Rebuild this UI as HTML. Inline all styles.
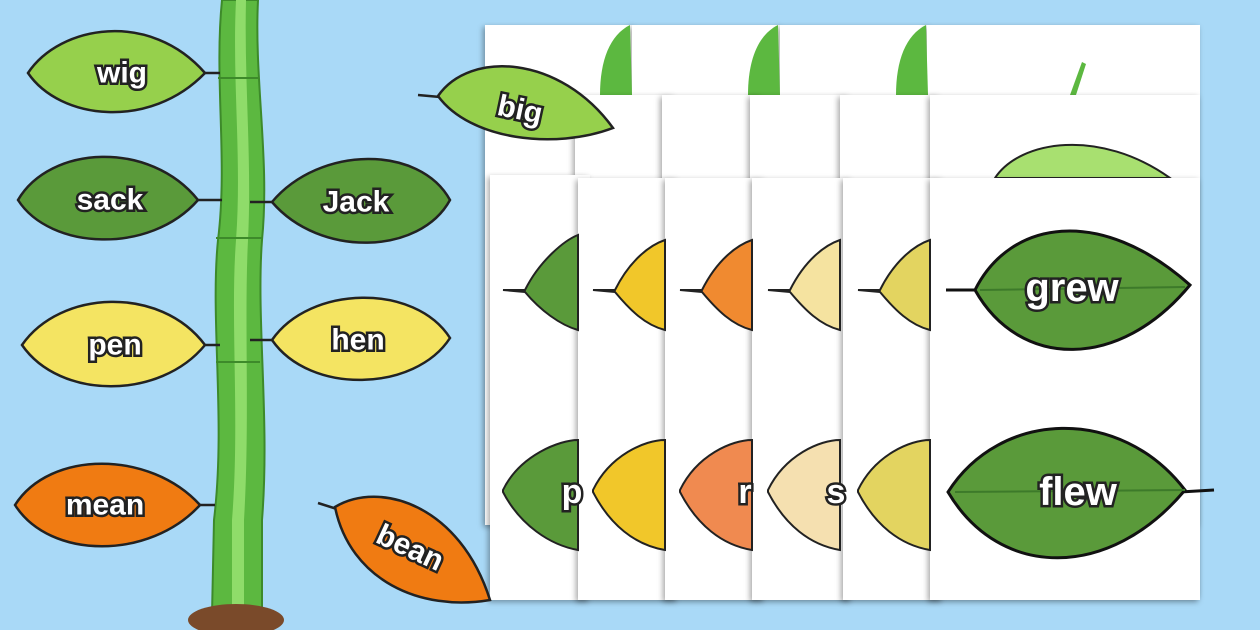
<!DOCTYPE html>
<html><head><meta charset="utf-8"><style>
html,body{margin:0;padding:0;background:#a9d9f7;}
svg{display:block}
text{font-family:"Liberation Sans",sans-serif;font-weight:bold;fill:#fff;stroke:#222;stroke-width:5px;paint-order:stroke;text-anchor:middle;dominant-baseline:central}
</style></head><body>
<svg width="1260" height="630" viewBox="0 0 1260 630" xmlns="http://www.w3.org/2000/svg">
<defs>
<filter id="sh" x="-20%" y="-10%" width="140%" height="130%"><feDropShadow dx="-2" dy="2" stdDeviation="3" flood-opacity="0.35"/></filter>
</defs>
<rect width="1260" height="630" fill="#a9d9f7"/>

<!-- stem -->
<path d="M222 0 C214 80 228 160 218 240 C210 320 226 420 214 520 L212 615 L262 615 L262 520 C270 420 256 320 262 240 C270 160 254 80 258 0 Z" fill="#5cb840" stroke="#3d8a2a" stroke-width="2"/>
<path d="M236 0 C232 80 242 160 236 240 C230 320 240 420 232 520 L232 615 L244 615 L244 520 C250 420 244 320 248 240 C252 160 244 80 246 0 Z" fill="#8fdc6a"/>
<g stroke="#3d8a2a" stroke-width="2">
<line x1="218" y1="78" x2="258" y2="78"/>
<line x1="216" y1="238" x2="262" y2="238"/>
<line x1="216" y1="362" x2="260" y2="362"/>
</g>
<ellipse cx="236" cy="620" rx="48" ry="16" fill="#7a4a2a"/>

<!-- cards back row -->
<rect x="485" y="25" width="150" height="500" fill="#fff" filter="url(#sh)"/>
<rect x="632" y="25" width="150" height="500" fill="#fff" filter="url(#sh)"/>
<rect x="780" y="25" width="150" height="500" fill="#fff" filter="url(#sh)"/>
<rect x="927" y="25" width="273" height="500" fill="#fff" filter="url(#sh)"/>
<path d="M600 95 C600 60 610 35 630 25 L632 95 Z" fill="#5cb840"/>
<path d="M748 95 C748 60 758 35 778 25 L780 95 Z" fill="#5cb840"/>
<path d="M896 95 C896 60 906 35 926 25 L928 95 Z" fill="#5cb840"/>
<path d="M1070 95 L1082 62 L1086 64 L1076 95 Z" fill="#5cb840"/>
<rect x="575" y="95" width="100" height="500" fill="#fff" filter="url(#sh)"/>
<rect x="662" y="95" width="100" height="500" fill="#fff" filter="url(#sh)"/>
<rect x="750" y="95" width="100" height="500" fill="#fff" filter="url(#sh)"/>
<rect x="840" y="95" width="100" height="500" fill="#fff" filter="url(#sh)"/>
<rect x="930" y="95" width="270" height="500" fill="#fff" filter="url(#sh)"/>
<path d="M995 178 C1020 140 1100 128 1170 178 Z" fill="#a8e070" stroke="#222" stroke-width="2"/>

<!-- front cards -->
<rect x="490" y="175" width="100" height="425" fill="#fff" filter="url(#sh)"/>
<rect x="578" y="178" width="100" height="422" fill="#fff" filter="url(#sh)"/>
<rect x="665" y="178" width="100" height="422" fill="#fff" filter="url(#sh)"/>
<rect x="752" y="178" width="100" height="422" fill="#fff" filter="url(#sh)"/>
<rect x="843" y="178" width="100" height="422" fill="#fff" filter="url(#sh)"/>
<rect x="930" y="178" width="270" height="422" fill="#fff" filter="url(#sh)"/>

<!-- partial leaves on cards -->
<g stroke="#222" stroke-width="2">
<path d="M503 290 L525 290 C540 260 565 240 578 235 L578 330 C560 325 540 310 525 292 Z" fill="#5a9a3a"/>
<path d="M593 290 L615 290 C630 260 650 245 665 240 L665 330 C645 325 630 310 615 292 Z" fill="#f1c72a"/>
<path d="M680 290 L702 290 C717 260 737 245 752 240 L752 330 C732 325 717 310 702 292 Z" fill="#f08a30"/>
<path d="M768 290 L790 290 C805 260 825 245 840 240 L840 330 C820 325 805 310 790 292 Z" fill="#f5e3a0"/>
<path d="M858 290 L880 290 C895 260 915 245 930 240 L930 330 C910 325 895 310 880 292 Z" fill="#e3d460"/>
<path d="M503 490 C520 455 560 440 578 440 L578 550 C550 545 520 525 503 492 Z" fill="#5a9a3a"/>
<path d="M593 490 C610 455 645 440 665 440 L665 550 C635 545 610 525 593 492 Z" fill="#f1c72a"/>
<path d="M680 490 C697 455 732 440 752 440 L752 550 C722 545 697 525 680 492 Z" fill="#f08a50"/>
<path d="M768 490 C785 455 820 440 840 440 L840 550 C810 545 785 525 768 492 Z" fill="#f5e0b0"/>
<path d="M858 490 C875 455 910 440 930 440 L930 550 C900 545 875 525 858 492 Z" fill="#e3d460"/>
</g>
<text x="572" y="492" font-size="34">p</text>
<text x="745" y="492" font-size="34">r</text>
<text x="836" y="492" font-size="34">s</text>

<g stroke="#111" stroke-width="3">
<line x1="946" y1="290" x2="980" y2="290"/>
<path d="M975 290 C1010 220 1100 205 1190 285 C1120 370 1020 370 975 290 Z" fill="#5a9a3a"/>
<line x1="980" y1="290" x2="1185" y2="287" stroke="#3d7a2a" stroke-width="2"/>
<line x1="1180" y1="492" x2="1214" y2="490"/>
<path d="M948 492 C1000 410 1120 405 1185 490 C1110 580 1000 580 948 492 Z" fill="#5a9a3a"/>
<line x1="955" y1="492" x2="1185" y2="490" stroke="#3d7a2a" stroke-width="2"/>
</g>
<text x="1072" y="288" font-size="40">grew</text>
<text x="1078" y="492" font-size="40">flew</text>

<g stroke="#222" stroke-width="2.5">
<line x1="200" y1="73" x2="220" y2="73"/>
<path d="M28 73 C60 25 150 10 205 73 C150 130 60 120 28 73 Z" fill="#96d04c"/>
<line x1="195" y1="200" x2="222" y2="200"/>
<path d="M18 200 C50 145 150 140 198 200 C150 255 50 250 18 200 Z" fill="#5a9a3a"/>
<line x1="250" y1="202" x2="275" y2="202"/>
<path d="M272 202 C320 145 420 145 450 200 C420 255 320 258 272 202 Z" fill="#5a9a3a"/>
<line x1="200" y1="345" x2="220" y2="345"/>
<path d="M22 345 C60 290 160 285 205 345 C160 400 60 400 22 345 Z" fill="#f4e462"/>
<line x1="250" y1="340" x2="275" y2="340"/>
<path d="M272 340 C310 285 415 283 450 338 C415 392 310 395 272 340 Z" fill="#f4e462"/>
<line x1="195" y1="505" x2="215" y2="505"/>
<path d="M15 505 C50 450 150 450 200 505 C150 560 50 560 15 505 Z" fill="#f07b12"/>
<line x1="318" y1="503" x2="340" y2="510"/>
<path d="M335 507 C380 480 460 505 490 600 C420 612 350 580 335 507 Z" fill="#f07b12"/>
<line x1="418" y1="95" x2="440" y2="97"/>
<path d="M438 96 C470 50 560 55 613 128 C555 150 470 140 438 96 Z" fill="#96d04c"/>
</g>
<text x="122" y="73" font-size="30">wig</text>
<text x="110" y="200" font-size="30">sack</text>
<text x="356" y="202" font-size="30">Jack</text>
<text x="115" y="345" font-size="30">pen</text>
<text x="358" y="340" font-size="30">hen</text>
<text x="105" y="505" font-size="30">mean</text>
<text x="410" y="548" font-size="30" transform="rotate(25 410 548)">bean</text>
<text x="520" y="110" font-size="30" transform="rotate(12 520 110)">big</text>
</svg>
</body></html>
